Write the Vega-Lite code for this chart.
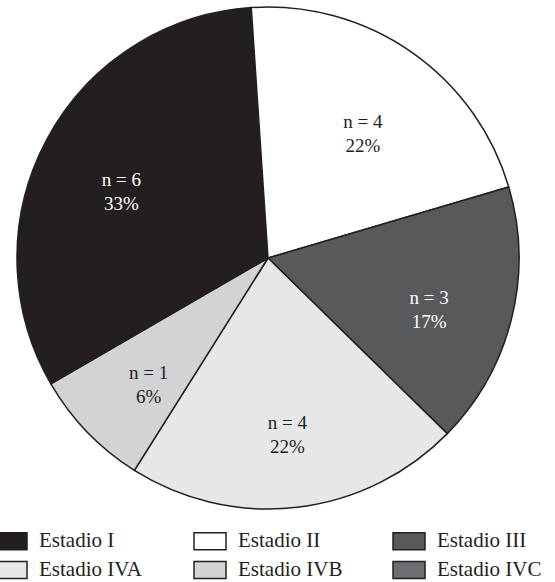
{
  "$schema": "https://vega.github.io/schema/vega-lite/v6.json",
  "width": 536,
  "height": 516,
  "autosize": {"type": "none"},
  "padding": {"left": 0, "top": 0, "right": 19, "bottom": 66},
  "background": "white",
  "config": {"view": {"stroke": null}},
  "data": {
    "values": [
      {"stage": "Estadio I", "share": 32.3, "label": "n = 6\n33%"},
      {"stage": "Estadio II", "share": 21.5, "label": "n = 4\n22%"},
      {"stage": "Estadio III", "share": 16.9, "label": "n = 3\n17%"},
      {"stage": "Estadio IVA", "share": 21.6, "label": "n = 4\n22%"},
      {"stage": "Estadio IVB", "share": 7.7, "label": "n = 1\n6%"},
      {"stage": "Estadio IVC", "share": 0, "label": ""}
    ]
  },
  "encoding": {
    "theta": {"field": "share", "type": "quantitative", "stack": true, "scale": {"range": [4.187, 10.470]}},
    "order": {"field": "stage", "type": "nominal"}
  },
  "layer": [
    {
      "mark": {"type": "arc", "radius": 251, "stroke": "#231f20", "strokeWidth": 1.5},
      "encoding": {
        "color": {
          "field": "stage",
          "type": "nominal",
          "scale": {
            "domain": ["Estadio I", "Estadio II", "Estadio III", "Estadio IVA", "Estadio IVB", "Estadio IVC"],
            "range": ["#231f20", "#ffffff", "#58595b", "#e6e7e8", "#d1d3d4", "#6d6e71"]
          },
          "legend": {
            "title": null,
            "orient": "none",
            "legendX": 0,
            "legendY": 530,
            "direction": "horizontal",
            "columns": 3,
            "gridAlign": "all",
            "columnPadding": 47,
            "rowPadding": 5,
            "padding": 0,
            "symbolType": "M-1.6,-0.85H1.6V0.85H-1.6Z",
            "symbolSize": 400,
            "symbolStrokeColor": "#231f20",
            "symbolStrokeWidth": 1.5,
            "symbolOpacity": 1,
            "labelFont": "Liberation Serif",
            "labelFontSize": 21,
            "labelColor": "#231f20",
            "labelOffset": 17,
            "labelLimit": 200
          }
        }
      }
    },
    {
      "transform": [{"filter": "datum.share > 0"}],
      "mark": {"type": "text", "radius": 166, "font": "Liberation Serif", "fontSize": 19, "lineBreak": "\n", "lineHeight": 24, "baseline": "middle", "align": "center"},
      "encoding": {
        "text": {"field": "label"},
        "color": {
          "condition": {"test": "datum.stage === 'Estadio I' || datum.stage === 'Estadio III'", "value": "#ffffff"},
          "value": "#231f20"
        }
      }
    }
  ]
}
